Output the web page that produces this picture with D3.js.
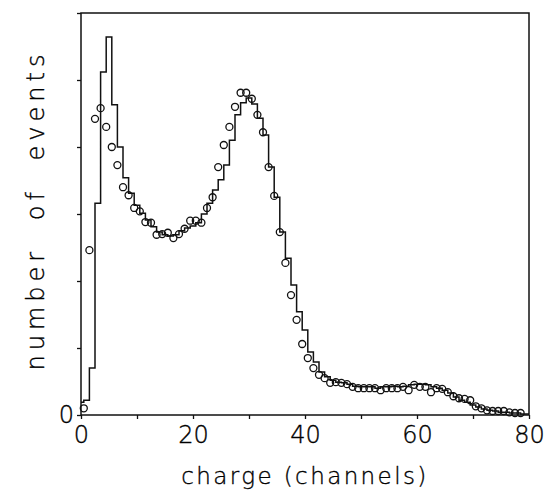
<!DOCTYPE html>
<html>
<head>
<meta charset="UTF-8">
<title>charge spectrum</title>
<style>
  body { margin: 0; background: #fff; }
  text { font-family: "DejaVu Sans", sans-serif; font-weight: 200; fill: #000; stroke: #000; stroke-width: 0.35px; }
</style>
</head>
<body>
<div id="chart"></div>
<script src="https://d3js.org/d3.v7.min.js"></script>
<script>
// simulated histogram, one bin per channel, channel 0..80
var histStart = 0;
var histCounts = [0.19, 0.22, 0.70, 3.16, 5.12, 5.64, 4.63, 4.00, 3.54, 3.31,
  3.13, 3.01, 2.91, 2.81, 2.73, 2.69, 2.67, 2.69, 2.75, 2.79,
  2.82, 2.87, 3.00, 3.16, 3.36, 3.51, 3.73, 4.10, 4.48, 4.66,
  4.73, 4.64, 4.43, 4.18, 3.70, 3.25, 2.73, 2.34, 1.94, 1.54,
  1.27, 0.94, 0.79, 0.64, 0.57, 0.52, 0.49, 0.48, 0.46, 0.43,
  0.42, 0.42, 0.42, 0.40, 0.42, 0.42, 0.43, 0.42, 0.43, 0.45,
  0.46, 0.46, 0.45, 0.42, 0.40, 0.37, 0.33, 0.27, 0.22, 0.19,
  0.15, 0.12, 0.09, 0.07, 0.06, 0.04, 0.04, 0.03, 0.03, 0.015, 0.015];

// measured points, channel 0.5..78.5
var measStart = 0.5;
var measCounts = [0.10, 2.46, 4.42, 4.58, 4.30, 4.00, 3.73, 3.40, 3.28, 3.09,
  3.04, 2.88, 2.87, 2.69, 2.70, 2.72, 2.64, 2.70, 2.78, 2.90,
  2.90, 2.87, 3.09, 3.25, 3.70, 4.03, 4.30, 4.60, 4.81, 4.81,
  4.72, 4.48, 4.22, 3.70, 3.27, 2.73, 2.27, 1.79, 1.42, 1.06,
  0.85, 0.70, 0.60, 0.55, 0.48, 0.49, 0.48, 0.46, 0.42, 0.40,
  0.40, 0.40, 0.40, 0.37, 0.40, 0.40, 0.40, 0.42, 0.37, 0.45,
  0.42, 0.42, 0.34, 0.40, 0.39, 0.34, 0.28, 0.25, 0.24, 0.22,
  0.13, 0.10, 0.07, 0.06, 0.06, 0.06, 0.04, 0.03, 0.03];

var xTicks = [0, 10, 20, 30, 40, 50, 60, 70, 80];
var xTickLabels = {0: "0", 20: "20", 40: "40", 60: "60", 80: "80"};
var yTicks = [0, 1, 2, 3, 4, 5, 6];

var width = 547, height = 497;
var margin = {top: 13, right: 18, bottom: 82, left: 81};

var svg = d3.select("#chart").append("svg")
  .attr("width", width)
  .attr("height", height);

var x = d3.scaleLinear().domain([0, 80]).range([margin.left, width - margin.right]);
var y = d3.scaleLinear().domain([0, 6]).range([height - margin.bottom, margin.top]);

// frame
svg.append("rect")
  .attr("x", x(0)).attr("y", y(6))
  .attr("width", x(80) - x(0)).attr("height", y(0) - y(6))
  .attr("fill", "none").attr("stroke", "#111").attr("stroke-width", 1.5);

// axes
var xAxis = d3.axisBottom(x).tickValues(xTicks).tickSize(4).tickPadding(7)
  .tickFormat(function(d) { return xTickLabels[d] || ""; });
var gx = svg.append("g")
  .attr("transform", "translate(0," + y(0) + ")")
  .call(xAxis);
gx.select(".domain").remove();
gx.selectAll("line").attr("stroke", "#111").attr("stroke-width", 1.3);
gx.selectAll("text").attr("font-size", "24px").attr("font-family", null).attr("fill", null);

var yAxis = d3.axisLeft(y).tickValues(yTicks).tickSize(4).tickPadding(3)
  .tickFormat(function(d) { return d === 0 ? "0" : ""; });
var gy = svg.append("g")
  .attr("transform", "translate(" + x(0) + ",0)")
  .call(yAxis);
gy.select(".domain").remove();
gy.selectAll("line").attr("stroke", "#111").attr("stroke-width", 1.3);
gy.selectAll("text").attr("font-size", "24px").attr("font-family", null).attr("fill", null);

// histogram
var stepLine = d3.line()
  .x(function(d, i) { return x(histStart + i); })
  .y(function(d) { return y(d); })
  .curve(d3.curveStep);

svg.append("path")
  .datum(histCounts)
  .attr("d", stepLine)
  .attr("fill", "none")
  .attr("stroke", "#111")
  .attr("stroke-width", 1.5);

// data points
svg.append("g")
  .selectAll("circle")
  .data(measCounts)
  .join("circle")
  .attr("cx", function(d, i) { return x(measStart + i); })
  .attr("cy", function(d) { return y(d); })
  .attr("r", 3.5)
  .attr("fill", "none")
  .attr("stroke", "#111")
  .attr("stroke-width", 1.3);

// axis titles
svg.append("text")
  .attr("x", (x(0) + x(80)) / 2)
  .attr("y", 484)
  .attr("text-anchor", "middle")
  .attr("font-size", "23px")
  .attr("letter-spacing", "2.4px")
  .text("charge (channels)");

svg.append("text")
  .attr("transform", "translate(44,210) rotate(-90)")
  .attr("text-anchor", "middle")
  .attr("font-size", "24px")
  .attr("letter-spacing", "5px")
  .attr("word-spacing", "14px")
  .text("number of events");
</script>
</body>
</html>
